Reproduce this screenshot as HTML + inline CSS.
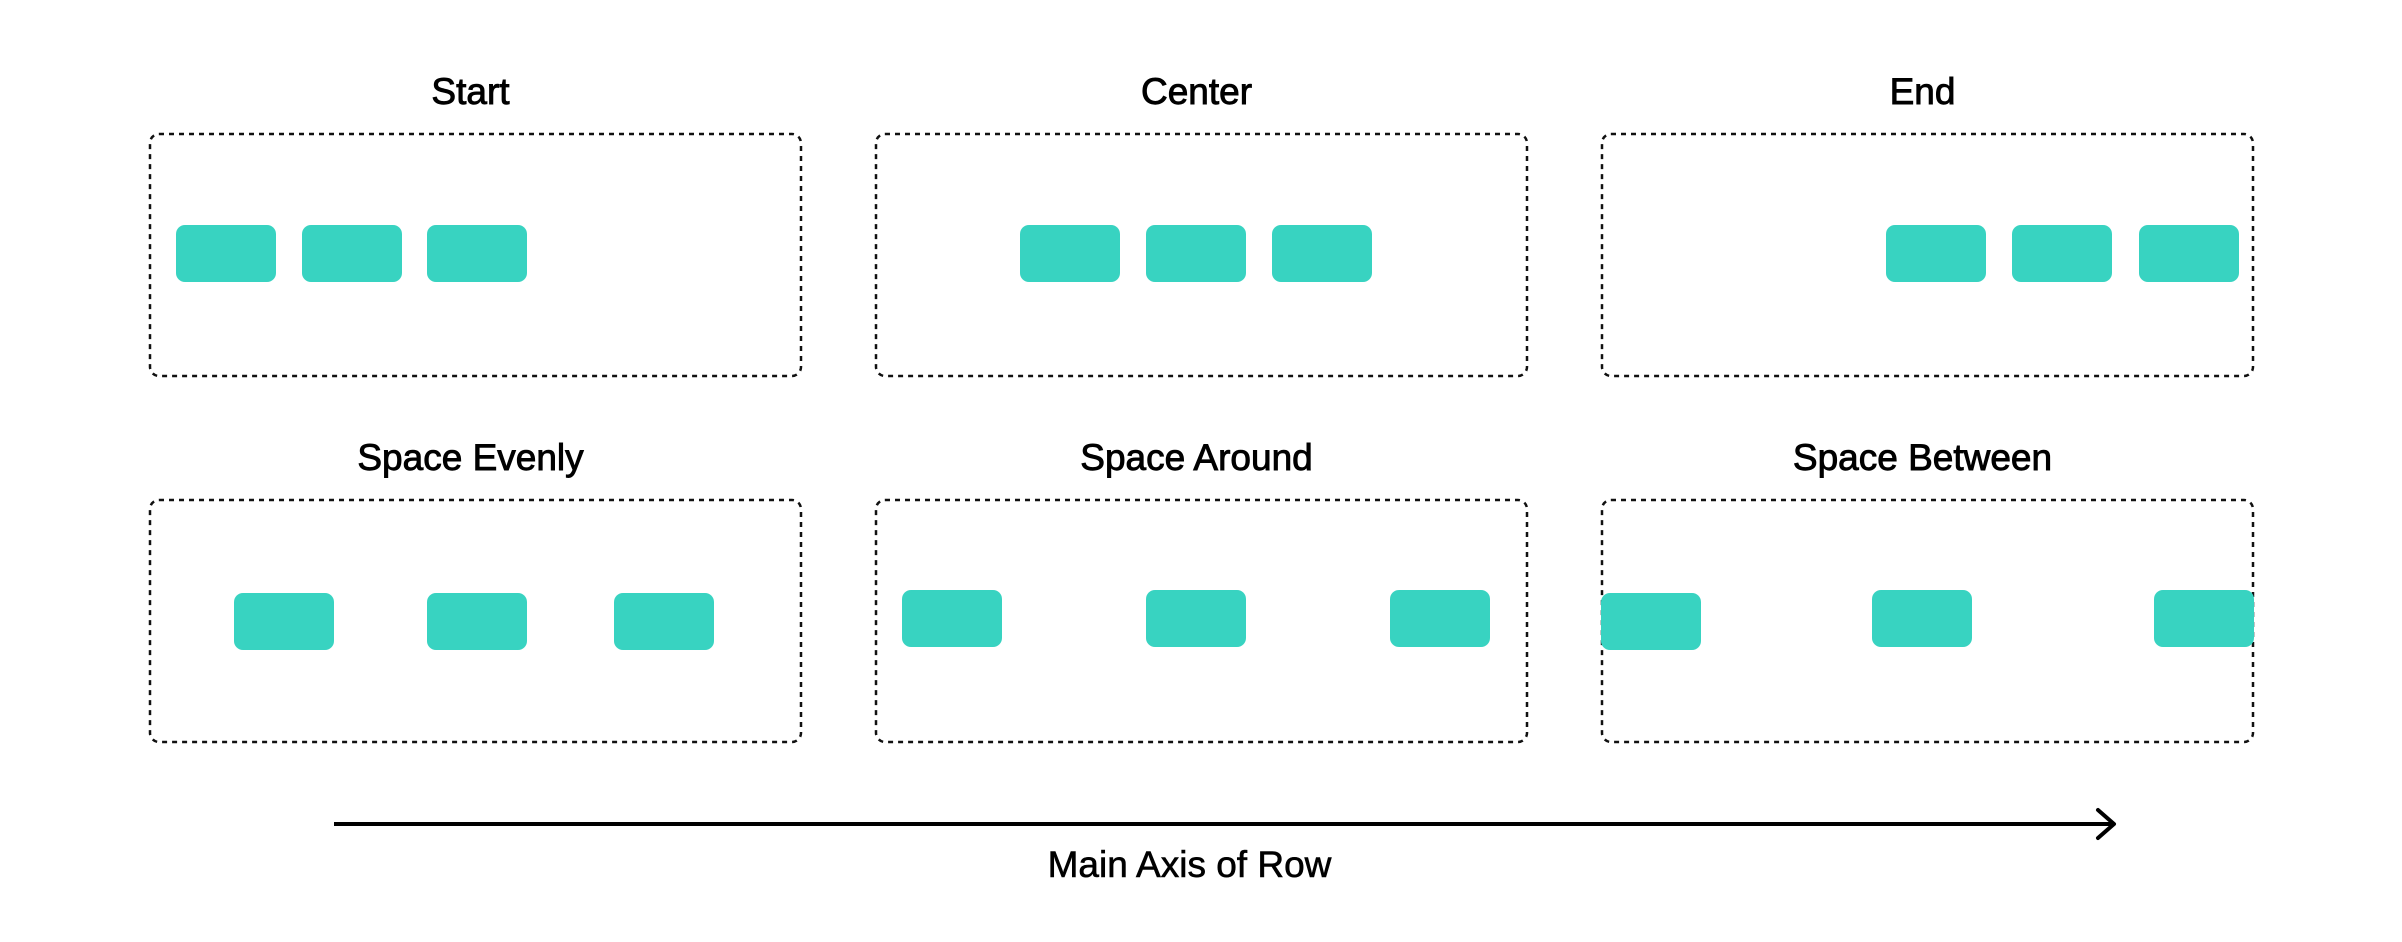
<!DOCTYPE html>
<html><head><meta charset="utf-8"><style>
body{margin:0;width:2402px;height:942px;background:#fff;position:relative;overflow:hidden;font-family:"Liberation Sans",sans-serif;}
.t{position:absolute;width:653px;text-align:center;font-size:37px;color:#000;line-height:40px;-webkit-text-stroke:0.9px #000;}
.it{position:absolute;width:100px;height:57px;background:#38d3c1;border-radius:9px;}
</style></head><body>
<svg width="2402" height="942" style="position:absolute;left:0;top:0">
<g fill="none" stroke="#111" stroke-width="2.5" stroke-dasharray="5,5">
<rect x="150" y="134" width="651" height="242" rx="9"/>
<rect x="876" y="134" width="651" height="242" rx="9"/>
<rect x="1602" y="134" width="651" height="242" rx="9"/>
<rect x="150" y="500" width="651" height="242" rx="9"/>
<rect x="876" y="500" width="651" height="242" rx="9"/>
<rect x="1602" y="500" width="651" height="242" rx="9"/>
</g>
<line x1="334" y1="824" x2="2114" y2="824" stroke="#000" stroke-width="4"/>
<polyline points="2098,810 2114,824 2098,838" fill="none" stroke="#000" stroke-width="4" stroke-linecap="round" stroke-linejoin="round"/>
</svg>
<div class="t" style="left:144px;top:72px">Start</div>
<div class="t" style="left:870px;top:72px">Center</div>
<div class="t" style="left:1596px;top:72px">End</div>
<div class="t" style="left:144px;top:438px">Space Evenly</div>
<div class="t" style="left:870px;top:438px">Space Around</div>
<div class="t" style="left:1596px;top:438px">Space Between</div>
<div class="it" style="left:176px;top:225px"></div>
<div class="it" style="left:302px;top:225px"></div>
<div class="it" style="left:427px;top:225px"></div>
<div class="it" style="left:1020px;top:225px"></div>
<div class="it" style="left:1146px;top:225px"></div>
<div class="it" style="left:1272px;top:225px"></div>
<div class="it" style="left:1886px;top:225px"></div>
<div class="it" style="left:2012px;top:225px"></div>
<div class="it" style="left:2139px;top:225px"></div>
<div class="it" style="left:234px;top:593px"></div>
<div class="it" style="left:427px;top:593px"></div>
<div class="it" style="left:614px;top:593px"></div>
<div class="it" style="left:902px;top:590px"></div>
<div class="it" style="left:1146px;top:590px"></div>
<div class="it" style="left:1390px;top:590px"></div>
<div class="it" style="left:1601px;top:593px"></div>
<div class="it" style="left:1872px;top:590px"></div>
<div class="it" style="left:2154px;top:590px"></div>
<div class="t" style="left:863px;top:845px;font-size:37px;-webkit-text-stroke:0.6px #000">Main Axis of Row</div>
</body></html>
